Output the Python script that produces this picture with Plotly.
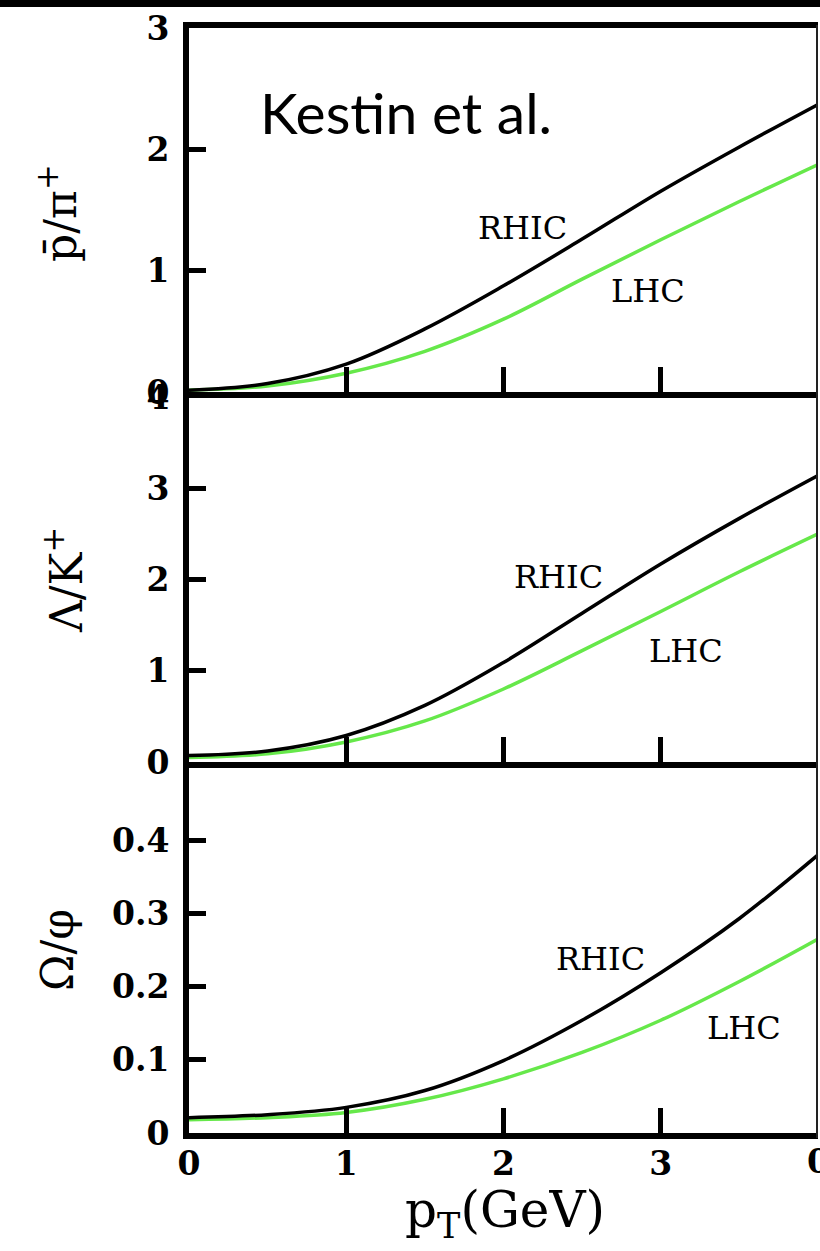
import plotly.graph_objects as go
from plotly.subplots import make_subplots

# transverse momentum grid (GeV)
pt = [0.0, 0.5, 1.0, 1.5, 2.0, 2.5, 3.0, 3.5, 4.0]

# anti-proton / pi+ ratio
pbar_rhic = [0.015, 0.07, 0.23, 0.52, 0.875, 1.26, 1.655, 2.02, 2.37]
pbar_lhc = [0.015, 0.05, 0.155, 0.335, 0.60, 0.93, 1.255, 1.57, 1.875]

# Lambda / K+ ratio
lam_rhic = [0.07, 0.12, 0.29, 0.62, 1.09, 1.63, 2.17, 2.67, 3.14]
lam_lhc = [0.05, 0.09, 0.22, 0.45, 0.80, 1.22, 1.65, 2.085, 2.50]

# Omega / phi ratio
om_rhic = [0.021, 0.025, 0.035, 0.058, 0.099, 0.154, 0.219, 0.293, 0.38]
om_lhc = [0.018, 0.021, 0.028, 0.046, 0.074, 0.110, 0.154, 0.207, 0.265]

panels = [
    (pbar_rhic, pbar_lhc, [0, 1, 2, 3], [0, 3]),
    (lam_rhic, lam_lhc, [0, 1, 2, 3, 4], [0, 4]),
    (om_rhic, om_lhc, [0, 0.1, 0.2, 0.3, 0.4], [0, 0.5]),
]
y_titles = ["p\u0304/\u03c0<sup>+</sup>", "\u039b/K<sup>+</sup>", "\u03a9/\u03c6"]
x_ticks = [0, 1, 2, 3]
x_title = "p<sub>T</sub>(GeV)"
credit = "Kestin et al."

W, H = 820, 1251
L, R, T, B = 189, 2, 28, 118
ph = H - T - B  # plot height in px

GREEN = "#66e84a"
SERIF = "DejaVu Serif"
TICK_FONT = dict(family=SERIF, size=33, color="black", weight="bold")

fig = make_subplots(rows=3, cols=1, shared_xaxes=False, vertical_spacing=0)

# panel extents in px from the top of the page: (top, bottom)
px_bounds = [(28, 392), (397, 762), (767, 1133)]
for i, (top, bot) in enumerate(px_bounds):
    d0 = (H - B - bot) / ph
    d1 = (H - B - top) / ph
    fig.layout[f"yaxis{'' if i == 0 else i + 1}"].domain = [d0, d1]

for i, (rhic, lhc, yt, yr) in enumerate(panels):
    row = i + 1
    fig.add_trace(go.Scatter(x=pt, y=lhc, mode="lines", line=dict(color=GREEN, width=3.5, shape="spline"),
                             showlegend=False, hoverinfo="skip"), row=row, col=1)
    fig.add_trace(go.Scatter(x=pt, y=rhic, mode="lines", line=dict(color="black", width=3.5, shape="spline"),
                             showlegend=False, hoverinfo="skip"), row=row, col=1)
    fig.update_yaxes(range=yr, tickvals=yt, ticks="inside", ticklen=17, tickwidth=5, tickcolor="black",
                     showline=True, linewidth=6, linecolor="black", showgrid=False, zeroline=False,
                     tickfont=TICK_FONT, ticklabelstandoff=7, row=row, col=1)
    fig.update_xaxes(range=[0, 4], tickvals=x_ticks if row == 3 else [1, 2, 3], ticks="inside", ticklen=25,
                     tickwidth=5, tickcolor="black", showline=True, linewidth=6, linecolor="black",
                     showgrid=False, zeroline=False, showticklabels=(row == 3),
                     mirror=(row == 1), tickfont=TICK_FONT, ticklabelstandoff=-4, row=row, col=1)

def px2x(px):
    return (px - L) / (W - L - R)

def px2y(py):
    return (H - B - py) / ph

annotations = []
# curve labels (data coordinates)
label_pos = [((2.118, 1.352), (2.919, 0.832)), ((2.347, 2.027), (3.161, 1.216)), ((2.614, 0.2377), (3.529, 0.1434))]
for i, (rp, lp) in enumerate(label_pos):
    xr = "x" if i == 0 else f"x{i + 1}"
    yr = "y" if i == 0 else f"y{i + 1}"
    for name, (lx, ly) in (("RHIC", rp), ("LHC", lp)):
        annotations.append(dict(x=lx, y=ly, xref=xr, yref=yr, text=name, showarrow=False,
                                xanchor="center", yanchor="middle",
                                font=dict(family=SERIF, size=32, color="black")))

# y-axis titles
for txt, (cx, cy) in zip(y_titles, [(58, 213), (63, 580), (57, 950)]):
    annotations.append(dict(x=px2x(cx), y=px2y(cy), xref="paper", yref="paper", text=txt, textangle=-90,
                            xanchor="center", yanchor="middle", showarrow=False,
                            font=dict(family=SERIF, size=44, color="black")))

# x-axis title
annotations.append(dict(x=px2x(505), y=px2y(1213), xref="paper", yref="paper", text=x_title,
                        xanchor="center", yanchor="middle", showarrow=False,
                        font=dict(family=SERIF, size=50, color="black")))

# label of the neighbouring frame's origin, cut by the right edge
annotations.append(dict(x=4, y=px2y(1161), xref="x3", yref="paper", text="0", showarrow=False,
                        xanchor="center", yanchor="middle", font=TICK_FONT))

# author credit
annotations.append(dict(x=px2x(258), y=px2y(112), xref="paper", yref="paper", text=credit,
                        xanchor="left", yanchor="middle", showarrow=False,
                        font=dict(family="Lato", size=57, color="black")))

shapes = [
    # header bar
    dict(type="rect", xref="paper", yref="paper", x0=px2x(-5), x1=px2x(825), y0=px2y(7), y1=px2y(-2),
         fillcolor="black", line=dict(width=0), layer="above"),
    # thin right frame edge
    dict(type="line", xref="paper", yref="paper", x0=px2x(817), x1=px2x(817), y0=px2y(25), y1=px2y(1138),
         line=dict(color="#222222", width=2), layer="above"),
]

fig.update_layout(width=W, height=H, margin=dict(l=L, r=R, t=T, b=B), plot_bgcolor="white",
                  paper_bgcolor="white", annotations=annotations, shapes=shapes)

fig.write_html("out.html")
